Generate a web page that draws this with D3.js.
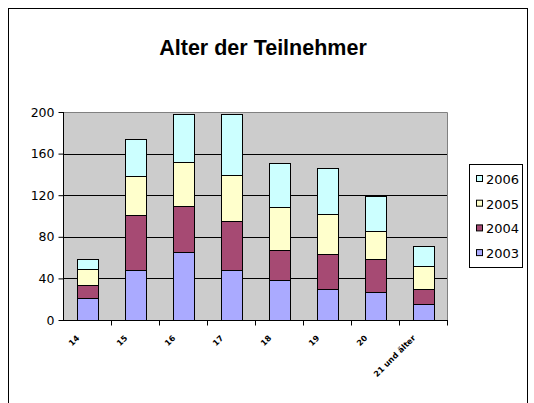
<!DOCTYPE html>
<html><head><meta charset="utf-8">
<script src="https://cdn.jsdelivr.net/npm/d3@7"></script>
<style>body{margin:0;background:#fff}svg{display:block}</style>
</head><body>
<svg id="c" width="534" height="403"></svg>
<script>
const title = "Alter der Teilnehmer";
const categories = ["14","15","16","17","18","19","20","21 und älter"];
const seriesNames = ["2003","2004","2005","2006"];
const v2003 = [21,48,65,48,38,30,27,15];
const v2004 = [13,53,45,47,29,33,32,15];
const v2005 = [15,37,42,44,42,39,27,22];
const v2006 = [10,36,46,59,42,44,33,19];
const yTicks = [0,40,80,120,160,200];
const colors = ["#aaaaff","#a64a73","#ffffcc","#ccffff"];

const svg = d3.select("#c");
const ml = 63, mr = 447, mt = 112, mb = 320;
const x = d3.scaleBand().domain(categories).range([ml, mr]).paddingInner(0.57).paddingOuter(0.285);
const y = d3.scaleLinear().domain([0,200]).range([mb, mt]);

// outer frame
svg.append("rect").attr("x",8.5).attr("y",8.5).attr("width",519).attr("height",420)
  .attr("fill","#fff").attr("stroke","#000");

svg.append("text").attr("x",263).attr("y",55).attr("text-anchor","middle")
  .attr("font-family","Liberation Sans, Arial, sans-serif").attr("font-weight","bold")
  .attr("font-size",21.5).text(title);

// plot area
svg.append("rect").attr("x",ml).attr("y",mt).attr("width",mr-ml).attr("height",mb-mt).attr("fill","#cccccc");
svg.append("path").attr("d",`M${ml},${mt+0.5}H${mr+0.5}V${mb}`).attr("fill","none").attr("stroke","#808080");

// gridlines
svg.append("g").selectAll("line").data(yTicks.filter(t=>t>0&&t<200)).join("line")
  .attr("x1",ml).attr("x2",mr).attr("y1",d=>Math.round(y(d))+0.5).attr("y2",d=>Math.round(y(d))+0.5)
  .attr("stroke","#000");

// stacked bars
const rows = categories.map((c,i)=>({cat:c,"2003":v2003[i],"2004":v2004[i],"2005":v2005[i],"2006":v2006[i]}));
const stack = d3.stack().keys(seriesNames)(rows);
svg.append("g").selectAll("g").data(stack).join("g").attr("fill",(d,i)=>colors[i])
  .selectAll("rect").data(d=>d).join("rect")
  .attr("x",d=>Math.round(x(d.data.cat))+0.5)
  .attr("width",Math.round(x.bandwidth()))
  .attr("y",d=>Math.round(y(d[1]))+0.5)
  .attr("height",d=>Math.round(y(d[0]))-Math.round(y(d[1])))
  .attr("stroke","#000").attr("stroke-width",1);

// y axis
const ya = svg.append("g").attr("transform",`translate(${ml+0.5},0)`)
  .call(d3.axisLeft(y).tickValues(yTicks).tickSize(5).tickPadding(4));
ya.select(".domain").attr("d",`M0,${mt}V${mb}`);
ya.selectAll("text").attr("font-family","DejaVu Sans, Verdana, sans-serif").attr("font-size",12.5).attr("fill","#000");

// x axis
const xa = svg.append("g").attr("transform",`translate(0,${mb+0.5})`);
xa.append("line").attr("x1",ml).attr("x2",mr+1).attr("stroke","#000");
const bounds = categories.map(c=>x(c)-x.step()*x.paddingInner()/2).slice(1).concat([mr]);
xa.selectAll("line.t").data(bounds).join("line").attr("class","t")
  .attr("x1",d=>Math.round(d)+0.5).attr("x2",d=>Math.round(d)+0.5).attr("y1",0).attr("y2",5).attr("stroke","#000");
xa.selectAll("text").data(categories).join("text")
  .attr("transform",d=>`translate(${x(d)+x.bandwidth()/2-7},${18}) rotate(-45)`)
  .attr("text-anchor","end").attr("font-family","DejaVu Sans, Verdana, sans-serif")
  .attr("font-size",8).attr("font-weight","bold").text(d=>d);

// legend
const lg = svg.append("g");
lg.append("rect").attr("x",469.5).attr("y",164.5).attr("width",53).attr("height",103).attr("fill","#fff").attr("stroke","#000");
const legendOrder = ["2006","2005","2004","2003"];
const lrows = lg.selectAll("g").data(legendOrder).join("g")
  .attr("transform",(d,i)=>`translate(0,${179+i*24.7})`);
lrows.append("rect").attr("x",476.5).attr("y",-3.5).attr("width",6).attr("height",6)
  .attr("fill",d=>colors[seriesNames.indexOf(d)]).attr("stroke","#000");
lrows.append("text").attr("x",486).attr("y",5).attr("font-family","DejaVu Sans, Verdana, sans-serif")
  .attr("font-size",13).text(d=>d);
</script>
</body></html>
